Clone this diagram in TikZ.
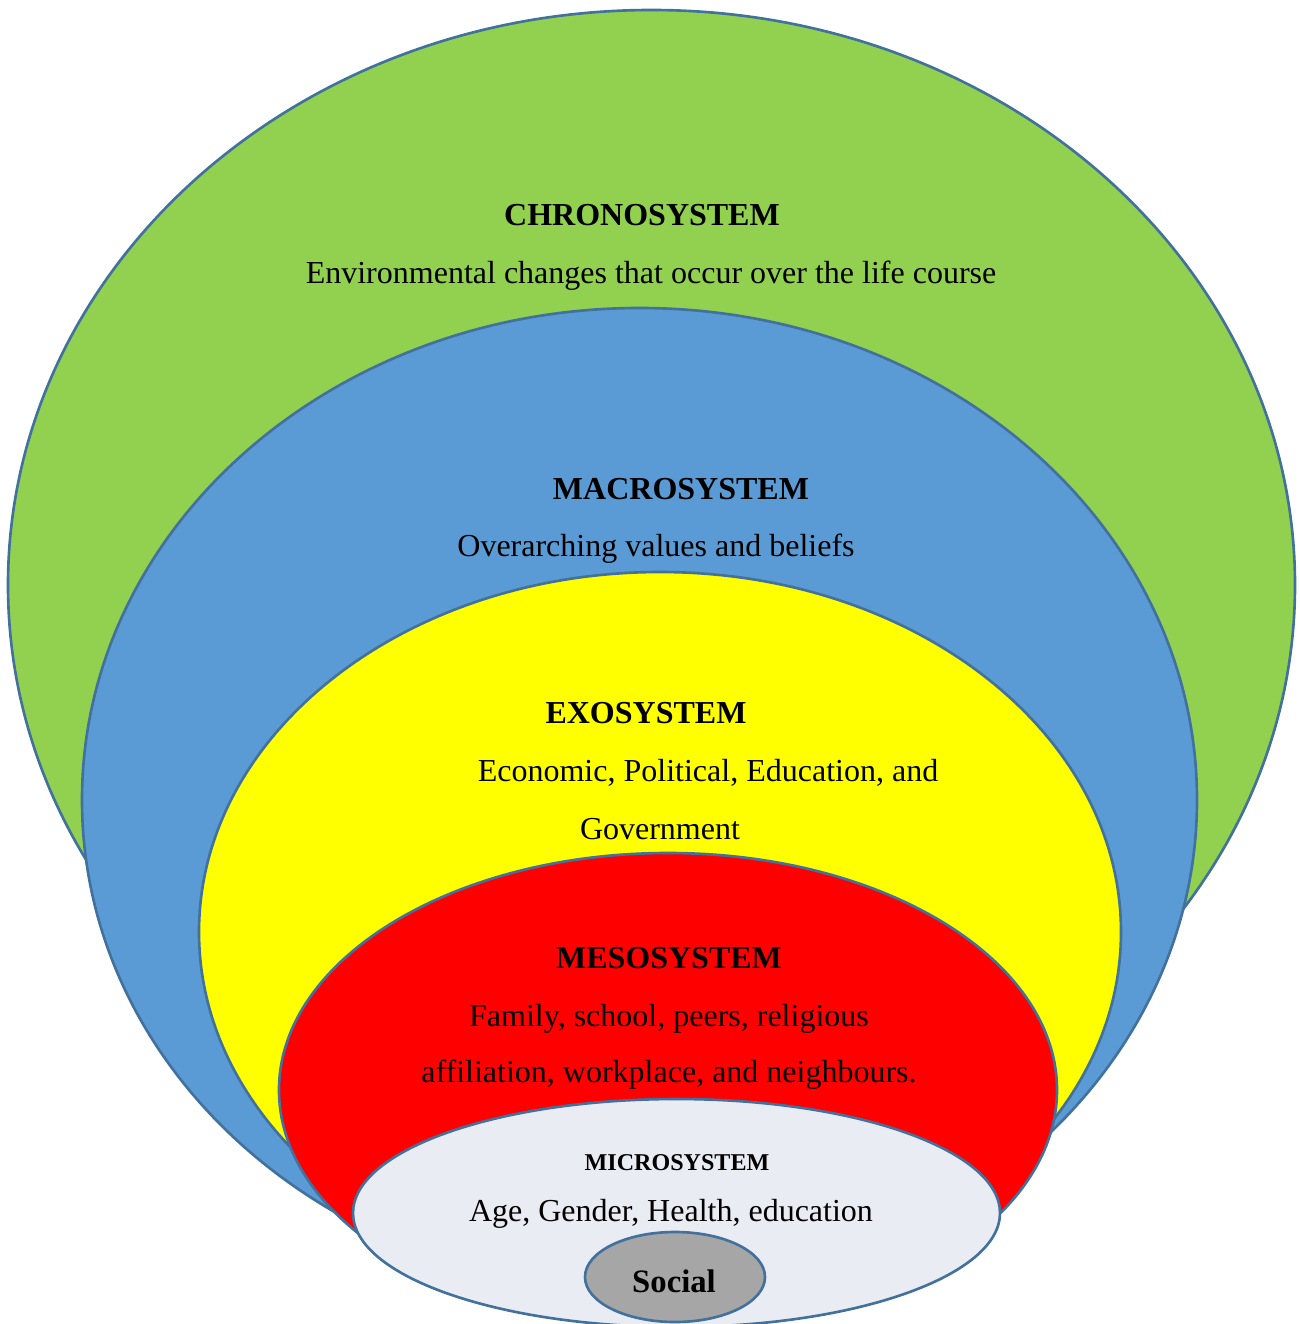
\documentclass[tikz,border=0pt]{standalone}
\usepackage{fontspec}
\setmainfont{Liberation Serif}
\definecolor{edgeblue}{HTML}{41719C}
\definecolor{chrono}{HTML}{92D050}
\definecolor{macro}{HTML}{5B9BD5}
\definecolor{exo}{HTML}{FFFF00}
\definecolor{meso}{HTML}{FF0000}
\definecolor{micro}{HTML}{E9ECF2}
\definecolor{social}{HTML}{A6A6A6}
\begin{document}
\begin{tikzpicture}[x=0.01cm, y=-0.01cm,
    ring/.style={draw=edgeblue, line width=0.75pt},
    title/.style={font=\bfseries\fontsize{9.1}{11}\selectfont},
    body/.style={font=\fontsize{9.1}{11}\selectfont}]
    \useasboundingbox (0,0) rectangle (1299,1324);
    \clip (0,0) rectangle (1299,1324);

    % the rings, outside in
    \filldraw[ring, fill=chrono] (651.5,585) ellipse (643.5 and 575);
    \filldraw[ring, fill=macro] (639.5,800) ellipse (557.5 and 492);
    \filldraw[ring, fill=exo] (660,932) ellipse (461 and 360);
    \filldraw[ring, fill=meso] (668,1090) ellipse (389 and 237);
    \filldraw[ring, fill=micro] (676.5,1213) ellipse (323.5 and 114);
    \filldraw[ring, fill=social] (675,1277) ellipse (90 and 45);

    \node[title] (chronoT) at (642,215) {CHRONOSYSTEM};
    \node[body] (chronoB) at (651,276) {Environmental changes that occur over the life course};

    \node[title] (macroT) at (681,489) {MACROSYSTEM};
    \node[body] (macroB) at (656,549) {Overarching values and beliefs};

    \node[title] (exoT) at (646,713) {EXOSYSTEM};
    \node[body] (exoB1) at (708,773) {Economic, Political, Education, and};
    \node[body] (exoB2) at (660,829) {Government};

    \node[title] (mesoT) at (669,958) {MESOSYSTEM};
    \node[body] (mesoB1) at (669,1019) {Family, school, peers, religious};
    \node[body] (mesoB2) at (669,1075) {affiliation, workplace, and neighbours.};

    \node[font=\bfseries\fontsize{6.85}{8}\selectfont] (microT) at (677,1163) {MICROSYSTEM};
    \node[body] (microB) at (671,1214) {Age, Gender, Health, education};

    \node[font=\bfseries\fontsize{9.3}{11}\selectfont] (socialT) at (674,1281) {Social};
\end{tikzpicture}
\end{document}
